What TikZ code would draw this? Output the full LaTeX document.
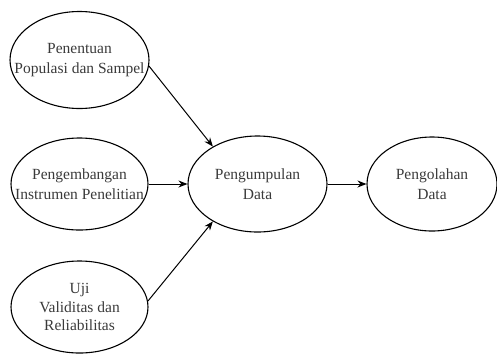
\documentclass[tikz,border=0pt]{standalone}
\usepackage{fontspec}
\setmainfont{Liberation Serif}
\usetikzlibrary{shapes.geometric,arrows.meta}
\definecolor{txtgray}{HTML}{3A3A3A}
\tikzset{
  ell/.style={draw, ellipse, line width=1.1pt, inner sep=0pt},
  txt/.style={align=center, text=txtgray, font=\fontsize{15.5}{20}\selectfont, inner sep=0pt},
  arr/.style={-{Stealth[length=9pt,width=7pt]}, line width=1pt}
}
\begin{document}
\begin{tikzpicture}[x=1pt,y=-1pt]
\useasboundingbox (0,0) rectangle (497,354);
\node[ell, minimum width=139pt, minimum height=97pt] (e1) at (79.5,60) {};
\node[ell, minimum width=137pt, minimum height=92pt] (e2) at (79.5,184) {};
\node[ell, minimum width=137pt, minimum height=92pt] (e3) at (79.5,307) {};
\node[ell, minimum width=139pt, minimum height=96pt] (e4) at (257.5,184) {};
\node[ell, minimum width=130pt, minimum height=94pt] (e5) at (432,184) {};
\node[txt] (t1) at (e1) {Penentuan\\Populasi dan Sampel};
\node[txt] (t2) at (e2) {Pengembangan\\Instrumen Penelitian};
\node[txt, font=\fontsize{15.5}{18.5}\selectfont] (t3) at (e3) {Uji\\Validitas dan\\Reliabilitas};
\node[txt] (t4) at (e4) {Pengumpulan\\Data};
\node[txt] (t5) at (e5) {Pengolahan\\Data};
\draw[arr] (e1.-5) -- (e4.140);
\draw[arr] (e2.east) -- (e4.west);
\draw[arr] (e3.5) -- (e4.-140);
\draw[arr] (e4.east) -- (e5.west);
\end{tikzpicture}
\end{document}
